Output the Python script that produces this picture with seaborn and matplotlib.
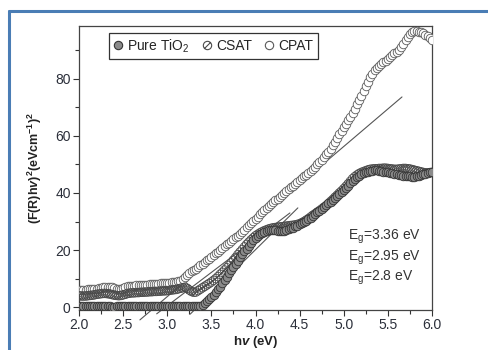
import matplotlib
matplotlib.use("Agg")
import matplotlib.pyplot as plt
import numpy as np
import pandas as pd
import seaborn as sns
from matplotlib.lines import Line2D
from matplotlib.path import Path

# photon energy grid (eV), one reading every 0.025 eV
hv = np.round(np.linspace(2.0, 6.0, 161), 3).tolist()

pure_tio2 = [0.3, 0.3, 0.4, 0.4, 0.3, 0.3, 0.3, 0.4, 0.3, 0.3,
             0.4, 0.4, 0.3, 0.3, 0.3, 0.2, 0.2, 0.3, 0.3, 0.3,
             0.3, 0.3, 0.4, 0.4, 0.3, 0.3, 0.3, 0.3, 0.3, 0.4,
             0.4, 0.3, 0.3, 0.3, 0.3, 0.3, 0.3, 0.4, 0.4, 0.3,
             0.3, 0.3, 0.3, 0.4, 0.4, 0.3, 0.3, 0.3, 0.3, 0.3,
             0.3, 0.3, 0.3, 0.3, 0.4, 0.5, 0.8, 1.3, 2.0, 2.7,
             3.5, 4.3, 5.2, 6.2, 7.2, 8.3, 9.4, 10.6, 11.8, 12.9,
             14.0, 15.2, 16.3, 17.4, 18.5, 19.5, 20.5, 21.5, 22.5, 23.4,
             24.2, 25.0, 25.6, 26.1, 26.5, 26.8, 27.0, 27.0, 27.0, 26.9,
             26.8, 26.7, 26.7, 26.8, 27.0, 27.3, 27.6, 27.9, 28.3, 28.6,
             29.0, 29.4, 29.8, 30.3, 30.8, 31.4, 32.0, 32.6, 33.2, 33.8,
             34.5, 35.1, 35.8, 36.4, 37.0, 37.6, 38.2, 38.8, 39.5, 40.2,
             41.0, 41.8, 42.6, 43.4, 44.2, 44.9, 45.6, 46.1, 46.6, 47.0,
             47.3, 47.5, 47.7, 47.8, 47.9, 47.9, 47.8, 47.7, 47.5, 47.4,
             47.2, 47.1, 47.0, 46.8, 46.6, 46.4, 46.2, 46.1, 46.0, 45.9,
             45.8, 45.7, 45.7, 45.8, 46.0, 46.2, 46.5, 46.7, 47.0, 47.2,
             47.4]

csat = [4.0, 3.9, 3.9, 3.9, 4.0, 4.1, 4.2, 4.3, 4.5, 4.6,
        4.7, 4.8, 4.8, 4.7, 4.6, 4.4, 4.2, 4.1, 4.0, 4.1,
        4.3, 4.5, 4.8, 4.9, 5.0, 5.0, 5.1, 5.1, 5.2, 5.2,
        5.3, 5.3, 5.4, 5.4, 5.5, 5.5, 5.6, 5.6, 5.7, 5.7,
        5.8, 5.9, 6.0, 6.1, 6.2, 6.4, 6.6, 6.8, 7.0, 6.6,
        6.0, 5.5, 5.2, 5.3, 5.8, 6.3, 6.8, 7.3, 7.8, 8.3,
        8.8, 9.4, 10.0, 10.7, 11.5, 12.2, 13.0, 13.8, 14.6, 15.5,
        16.5, 17.4, 18.4, 19.3, 20.2, 21.1, 22.0, 22.8, 23.6, 24.3,
        25.0, 25.5, 26.0, 26.4, 26.8, 27.1, 27.4, 27.6, 27.8, 27.9,
        28.0, 28.1, 28.2, 28.3, 28.4, 28.5, 28.6, 28.7, 28.8, 29.0,
        29.2, 29.6, 30.0, 30.5, 31.0, 31.6, 32.2, 32.7, 33.3, 33.8,
        34.4, 35.0, 35.5, 36.2, 37.0, 37.7, 38.5, 39.2, 40.0, 40.7,
        41.5, 42.3, 43.2, 44.1, 45.0, 45.7, 46.3, 46.8, 47.2, 47.5,
        47.8, 48.1, 48.3, 48.4, 48.5, 48.5, 48.6, 48.6, 48.7, 48.7,
        48.6, 48.5, 48.4, 48.3, 48.3, 48.4, 48.5, 48.6, 48.6, 48.5,
        48.4, 48.2, 48.0, 47.8, 47.6, 47.4, 47.2, 47.1, 47.0, 47.1,
        47.2]

cpat = [6.0, 6.0, 6.0, 6.1, 6.2, 6.2, 6.3, 6.4, 6.5, 6.6,
        6.7, 6.9, 7.0, 7.1, 7.0, 6.9, 6.6, 6.5, 6.4, 6.5,
        6.8, 7.0, 7.3, 7.4, 7.5, 7.5, 7.6, 7.6, 7.7, 7.7,
        7.8, 7.9, 8.0, 8.0, 8.1, 8.1, 8.2, 8.3, 8.4, 8.4,
        8.5, 8.6, 8.7, 8.8, 8.9, 9.0, 9.3, 9.7, 10.5, 11.3,
        12.0, 12.5, 13.0, 13.5, 14.0, 14.6, 15.2, 15.8, 16.4, 17.0,
        17.6, 18.2, 18.8, 19.4, 20.0, 20.6, 21.3, 22.0, 22.6, 23.2,
        23.8, 24.4, 25.0, 25.7, 26.5, 27.2, 28.0, 28.7, 29.5, 30.2,
        31.0, 31.7, 32.5, 33.2, 34.0, 34.8, 35.5, 36.3, 37.0, 37.5,
        38.0, 38.6, 39.3, 40.0, 40.7, 41.3, 42.0, 42.6, 43.2, 43.8,
        44.5, 45.1, 45.8, 46.4, 47.0, 47.7, 48.5, 49.2, 50.0, 50.7,
        51.5, 52.5, 53.5, 54.5, 55.5, 56.7, 58.0, 59.2, 60.5, 61.7,
        63.0, 64.2, 65.5, 66.7, 68.0, 69.5, 71.0, 72.5, 74.0, 75.7,
        77.5, 79.0, 80.5, 81.8, 83.0, 83.8, 84.5, 85.2, 85.8, 86.4,
        87.0, 87.6, 88.3, 88.9, 89.5, 90.2, 91.0, 92.2, 93.5, 94.7,
        95.8, 96.3, 96.8, 96.7, 96.5, 96.3, 96.0, 95.5, 95.0, 94.3,
        93.5]

series_names = ["Pure TiO$_2$", "CSAT", "CPAT"]

# Tauc tangent fits: x-intercept, slope, drawn x range
fit_x0 = [3.34, 2.98, 2.86]
fit_slope = [30.5, 23.4, 26.3]
fit_xmin = [3.26, 2.88, 2.69]
fit_xmax = [4.48, 4.39, 5.66]
eg_labels = ["E$_\\mathregular{g}$=3.36 eV", "E$_\\mathregular{g}$=2.95 eV",
             "E$_\\mathregular{g}$=2.8 eV"]

sns.set_style("ticks")
plt.rcParams["font.family"] = ["Liberation Sans", "DejaVu Sans"]
plt.rcParams["mathtext.fontset"] = "custom"
plt.rcParams["mathtext.rm"] = "Liberation Sans"
plt.rcParams["mathtext.it"] = "Liberation Sans:italic:bold"
plt.rcParams["mathtext.bf"] = "Liberation Sans:bold"

df = pd.DataFrame({"hv": hv * 3,
                   "y": pure_tio2 + csat + cpat,
                   "sample": sum([[n] * len(hv) for n in series_names], [])})

# slashed circle marker for CSAT
slash_circle = Path.make_compound_path(
    Path.unit_circle(),
    Path([[-0.7, -0.7], [0.7, 0.7]], [Path.MOVETO, Path.LINETO]))

styles = {
    "Pure TiO$_2$": dict(marker="o", facecolor="#8a8a8a", edgecolor="#333333"),
    "CSAT": dict(marker=slash_circle, facecolor="none", edgecolor="#4a4a4a"),
    "CPAT": dict(marker="o", facecolor="white", edgecolor="#5a5a5a"),
}

fig = plt.figure(figsize=(4.89, 3.5), dpi=100)
ax = fig.add_axes([0.1616, 0.1143, 0.7218, 0.8114])

# draw CPAT first so the lower curves sit on top
for name in ["CPAT", "CSAT", "Pure TiO$_2$"]:
    st = styles[name]
    sub = df[df["sample"] == name]
    sns.scatterplot(data=sub, x="hv", y="y", ax=ax, marker=st["marker"],
                    s=38, facecolor=st["facecolor"], edgecolor=st["edgecolor"],
                    linewidth=0.6, legend=False, zorder=3)

for x0, m, a, b in zip(fit_x0, fit_slope, fit_xmin, fit_xmax):
    xs = np.array([a, b])
    ax.plot(xs, m * (xs - x0), color="#555555", lw=0.8, clip_on=False, zorder=2)

ax.set_xlim(2.0, 6.0)
ax.set_ylim(-1, 98.5)
ax.set_xticks(np.arange(2.0, 6.01, 0.5))
ax.set_xticks(np.arange(2.25, 6.0, 0.5), minor=True)
ax.set_yticks([0, 20, 40, 60, 80])
ax.set_yticks([10, 30, 50, 70, 90], minor=True)
ax.set_xticklabels([f"{v:.1f}" for v in np.arange(2.0, 6.01, 0.5)])
ax.tick_params(which="major", direction="out", length=4, width=0.8,
               labelsize=10, colors="#333333", labelcolor="#2b2f3a", pad=2)
ax.tick_params(which="minor", direction="out", length=3, width=0.8, colors="#333333")
for sp in ax.spines.values():
    sp.set_color("#444444")
    sp.set_linewidth(0.9)

ax.set_xlabel("h$\\mathit{v}$ (eV)", fontsize=9.5, fontweight="bold", labelpad=1,
              color="#222222")
ax.set_ylabel("(F(R)h$\\mathit{v}$)$^\\mathbf{2}$(eVcm$^\\mathbf{-1}$)$^\\mathbf{2}$",
              fontsize=9, fontweight="bold", labelpad=8, color="#222222")

for i, lab in enumerate(eg_labels):
    ax.text(5.05, 24.5 - i * 7.2, lab, fontsize=10, color="#333333", va="center")

handles = [Line2D([], [], ls="none", marker=styles[n]["marker"], markersize=6,
                  markerfacecolor=styles[n]["facecolor"],
                  markeredgecolor=styles[n]["edgecolor"], markeredgewidth=0.8)
           for n in series_names]
leg = ax.legend(handles, series_names, loc="upper left", bbox_to_anchor=(0.085, 0.975),
                borderaxespad=0, ncol=3, fontsize=10, handlelength=0.7,
                handletextpad=0.3, columnspacing=0.9, borderpad=0.3,
                fancybox=False, framealpha=1)
leg.get_frame().set_edgecolor("#333333")
leg.get_frame().set_linewidth(0.9)

# blue outer frame (top and left edges visible)
frame_c = "#4a7db5"
fig.add_artist(Line2D([0.0174, 0.0174], [0.0, 0.97], transform=fig.transFigure,
                      color=frame_c, lw=2.2))
fig.add_artist(Line2D([0.0174, 1.0], [0.97, 0.97], transform=fig.transFigure,
                      color=frame_c, lw=2.2))

fig.savefig("out.png", dpi=100)
